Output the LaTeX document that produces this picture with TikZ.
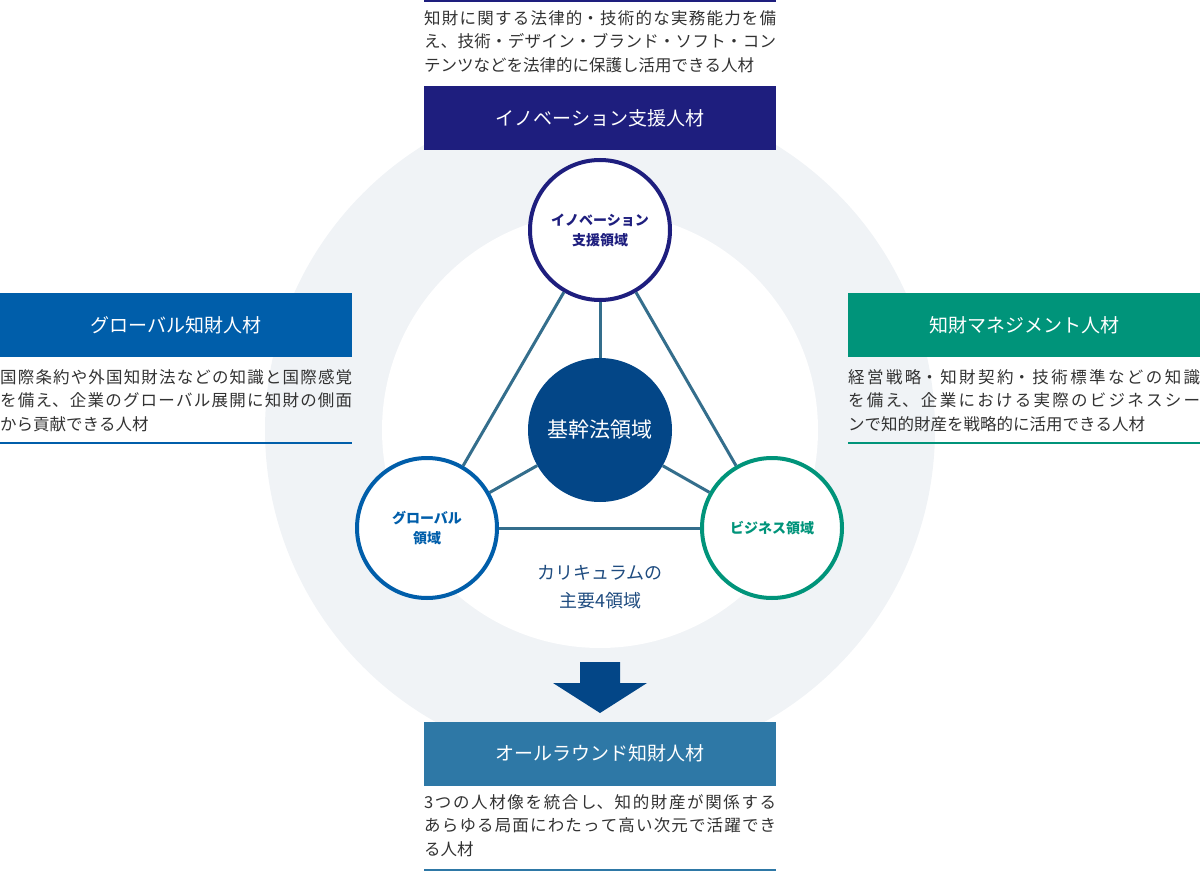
\documentclass[tikz,border=0pt]{standalone}
\usepackage{fontspec}
\setmainfont{Noto Sans CJK JP}
\usetikzlibrary{positioning,calc}
\XeTeXlinebreaklocale "ja"
\XeTeXlinebreakskip=0pt plus 4pt
\definecolor{innoblue}{RGB}{30,30,126}
\definecolor{globblue}{RGB}{0,94,170}
\definecolor{bizteal}{RGB}{0,148,122}
\definecolor{roundblue}{RGB}{46,120,166}
\definecolor{coreblue}{RGB}{3,70,135}
\definecolor{linkblue}{RGB}{52,110,140}
\definecolor{bggray}{RGB}{240,243,246}
\definecolor{desctext}{RGB}{50,50,50}
\definecolor{currtext}{RGB}{31,76,128}
\tikzset{fieldcircle/.style={circle,draw,line width=4pt,fill=white,minimum size=140pt,inner sep=0pt,align=center,font=\fontsize{14}{20}\selectfont\bfseries}}
\tikzset{titlebox/.style={rectangle,minimum width=352pt,minimum height=64pt,inner sep=0pt,text=white,font=\fontsize{19}{22}\selectfont}}
\tikzset{desc/.style={anchor=north west,inner sep=0pt,text width=352pt,align=justify,text=desctext,font=\fontsize{16.5}{23.8}\selectfont}}
\tikzset{rule/.style={line width=2pt}}
\tikzset{link/.style={line width=3pt,color=linkblue}}

\begin{document}
\begin{tikzpicture}[x=1pt,y=-1pt]

	%% Background rings
	\useasboundingbox (0,0) rectangle (1200,872);
	\fill[bggray] (600,430) circle (335pt);
	\fill[white] (600,430) circle (218pt);

	%% Four fields
	\node[fieldcircle,draw=innoblue,text=innoblue] (inno) at (600,230) {イノベーション\\支援領域};
	\node[fieldcircle,draw=globblue,text=globblue] (glob) at (427,528) {グローバル\\領域};
	\node[fieldcircle,draw=bizteal,text=bizteal] (biz) at (772,528) {ビジネス領域};
	\node[circle,fill=coreblue,minimum size=144pt,inner sep=0pt,text=white,font=\fontsize{21}{24}\selectfont] (core) at (600,430) {基幹法領域};

	\draw[link] (inno) -- (glob);
	\draw[link] (inno) -- (biz);
	\draw[link] (glob) -- (biz);
	\draw[link] (core) -- (inno);
	\draw[link] (core) -- (glob);
	\draw[link] (core) -- (biz);

	\node[align=center,text=currtext,font=\fontsize{18}{28}\selectfont] (curr) at (600,587) {カリキュラムの\\主要4領域};

	%% Arrow down
	\coordinate (tip) at (600,713);
	\fill[coreblue] ($(tip)+(-20,-51)$) -- ($(tip)+(20,-51)$) -- ($(tip)+(20,-30)$) -- ($(tip)+(47,-30)$)
		-- (tip) -- ($(tip)+(-47,-30)$) -- ($(tip)+(-20,-30)$) -- cycle;

	%% Innovation (top)
	\draw[rule,innoblue] (424,1) -- (776,1);
	\node[desc] (innotext) at (424,10) {知財に関する法律的・技術的な実務能力を備\linebreak え、技術・デザイン・ブランド・ソフト・コン\linebreak テンツなどを法律的に保護し活用できる人材};
	\node[titlebox,fill=innoblue] (innotitle) at (600,118.5) {イノベーション支援人材};

	%% Global (left)
	\node[titlebox,fill=globblue] (globtitle) at (176,325) {グローバル知財人材};
	\node[desc] (globtext) at (0,369) {国際条約や外国知財法などの知識と国際感覚\linebreak を備え、企業のグローバル展開に知財の側面\linebreak から貢献できる人材};
	\draw[rule,globblue] (0,443) -- (352,443);

	%% Business (right)
	\node[titlebox,fill=bizteal] (biztitle) at (1024,325) {知財マネジメント人材};
	\node[desc] (biztext) at (848,369) {経営戦略・知財契約・技術標準などの知識\linebreak を備え、企業における実際のビジネスシー\linebreak ンで知的財産を戦略的に活用できる人材};
	\draw[rule,bizteal] (848,443) -- (1200,443);

	%% All-round (bottom)
	\node[titlebox,fill=roundblue] (roundtitle) at (600,753.5) {オールラウンド知財人材};
	\node[desc] (roundtext) at (424,794) {3つの人材像を統合し、知的財産が関係する\linebreak あらゆる局面にわたって高い次元で活躍でき\linebreak る人材};
	\draw[rule,roundblue] (424,870) -- (776,870);

\end{tikzpicture}
\end{document}
